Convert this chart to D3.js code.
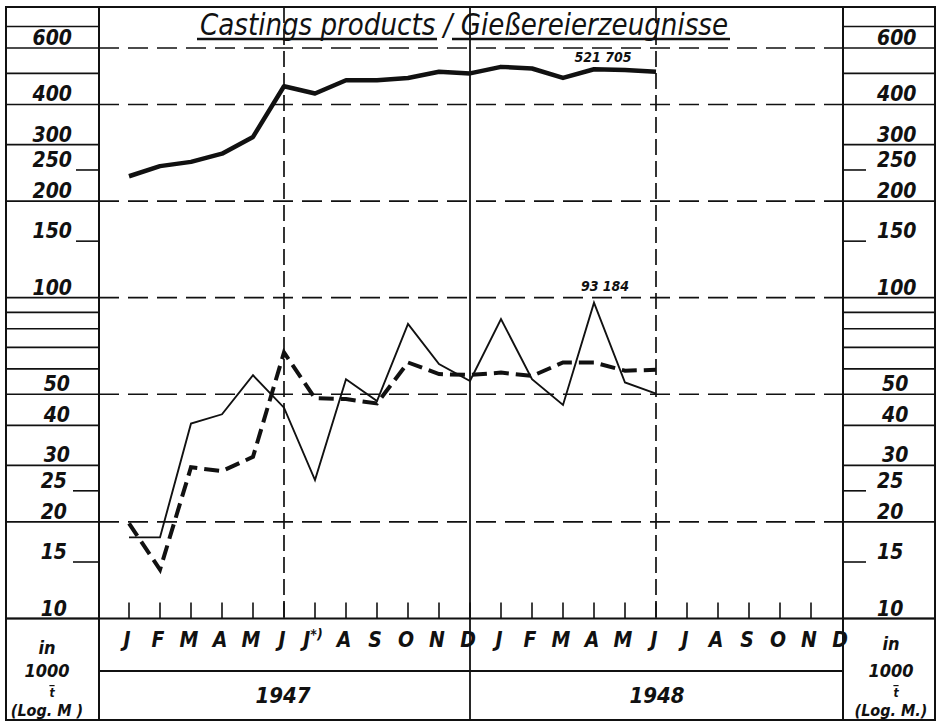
<!DOCTYPE html>
<html><head><meta charset="utf-8">
<script src="https://cdn.jsdelivr.net/npm/d3@7"></script>
<style>
html,body{margin:0;padding:0;background:#fff;}
text{font-family:"DejaVu Sans Condensed","DejaVu Sans",sans-serif;font-style:italic;font-stretch:condensed;fill:#111;}
.b{font-weight:bold;}
</style></head>
<body><svg id="c" width="941" height="721"></svg>
<script>
// ---- data ----
const monthLabels = ["J","F","M","A","M","J","J","A","S","O","N","D","J","F","M","A","M","J","J","A","S","O","N","D"];
const yearLabels = ["1947","1948"];
// thick solid: castings total (1000 t), Jan 1947 – Jun 1948
const castingsTotal = [239,257,265,281,317,456,433,476,476,484,506,500,524,518,484,515,512,506];
// thin solid
const castingsThin = [17.9,17.9,40.5,43.3,57.3,45.4,27.0,55.7,47.6,82.8,62.1,55.0,85.8,55.7,46.3,96.5,54.4,50.2];
// thick dashed
const castingsDashed = [19.8,14.2,29.6,28.8,31.9,67.5,48.6,48.3,46.8,62.8,57.8,57.4,58.4,57.0,62.8,62.8,59.2,59.6];
const yTickLabels = [600,400,300,250,200,150,100,50,40,30,25,20,15,10];
const gridValues = [600,400,200,100,50,20];
const panelLines = [700,600,500,400,300,200,100,90,80,70,60,50,40,30,20,10];
const shortTickValues = [250,150,25,15];
const annotationTexts = ["521 705","93 184"];

// ---- layout ----
const svg = d3.select("#c");
const L = 6, PL = 99, PR = 843, R = 935, T = 7, B = 720;
const x = d3.scaleLinear().domain([-1, 23]).range([98, 842]);
const y = d3.scaleLog().domain([10, 600]).range([618.5, 48]);
const axisY = y(10);

// frame
svg.append("rect").attr("x",L).attr("y",T).attr("width",R-L).attr("height",B-T)
  .attr("fill","none").attr("stroke","#111").attr("stroke-width",2);
svg.append("line").attr("x1",PL).attr("x2",PL).attr("y1",T).attr("y2",B).attr("stroke","#111").attr("stroke-width",2);
svg.append("line").attr("x1",PR).attr("x2",PR).attr("y1",T).attr("y2",B).attr("stroke","#111").attr("stroke-width",2);

// side panel lines
[[L,PL],[PR,R]].forEach(([a,b])=>{
  svg.append("g").selectAll("line").data(panelLines).join("line")
    .attr("x1",a).attr("x2",b).attr("y1",d=>y(d)).attr("y2",d=>y(d))
    .attr("stroke","#111").attr("stroke-width",1.6);
});
// short ticks
svg.append("g").selectAll("line").data(shortTickValues).join("line")
  .attr("x1",d=>d>=100?76:73).attr("x2",PL).attr("y1",d=>y(d)).attr("y2",d=>y(d))
  .attr("stroke","#111").attr("stroke-width",1.6);
svg.append("g").selectAll("line").data(shortTickValues).join("line")
  .attr("x1",PR).attr("x2",866).attr("y1",d=>y(d)).attr("y2",d=>y(d))
  .attr("stroke","#111").attr("stroke-width",1.6);

// y labels
svg.append("g").selectAll("text").data(yTickLabels).join("text").attr("class","b")
  .attr("x",d=>d>=100?72:(d>=30?70:67)).attr("y",d=>y(d)-3)
  .attr("text-anchor","end").attr("font-size",21).text(d=>d);
svg.append("g").selectAll("text").data(yTickLabels).join("text").attr("class","b")
  .attr("x",d=>d>=100?877:(d>=30?882:877)).attr("y",d=>y(d)-3)
  .attr("text-anchor","start").attr("font-size",21).text(d=>d);

// horizontal dashed grid
svg.append("g").selectAll("line").data(gridValues).join("line")
  .attr("x1",PL).attr("x2",PR).attr("y1",d=>y(d)).attr("y2",d=>y(d))
  .attr("stroke","#111").attr("stroke-width",1.7).attr("stroke-dasharray","20,9");

// vertical lines: June 1947, June 1948 dashed; Dec 1947 solid
[5,17].forEach(i=>{
  svg.append("line").attr("x1",x(i)).attr("x2",x(i)).attr("y1",T).attr("y2",axisY)
    .attr("stroke","#111").attr("stroke-width",1.7).attr("stroke-dasharray","16,6");
});
svg.append("line").attr("x1",x(11)).attr("x2",x(11)).attr("y1",T).attr("y2",B)
  .attr("stroke","#111").attr("stroke-width",1.8);

// x axis line and ticks
svg.append("line").attr("x1",L).attr("x2",R).attr("y1",axisY).attr("y2",axisY).attr("stroke","#111").attr("stroke-width",2);
svg.append("line").attr("x1",PL).attr("x2",PR).attr("y1",671).attr("y2",671).attr("stroke","#111").attr("stroke-width",1.8);
svg.append("g").selectAll("line").data(d3.range(0,23)).join("line")
  .attr("x1",d=>x(d)).attr("x2",d=>x(d)).attr("y1",axisY-16).attr("y2",axisY)
  .attr("stroke","#111").attr("stroke-width",1.6);

// month labels
const ml = svg.append("g").selectAll("text").data(monthLabels).join("text").attr("class","b")
  .attr("x",(d,i)=>x(i)-2).attr("y",647).attr("text-anchor","middle").attr("font-size",21);
ml.each(function(d,i){
  const t = d3.select(this);
  t.append("tspan").text(d);
  if(i===6){ t.append("tspan").attr("dy",-8).attr("font-size",14).text("*)"); }
});
// year labels
svg.append("g").selectAll("text").data(yearLabels).join("text").attr("class","b")
  .attr("x",(d,i)=>i===0?283:657).attr("y",703).attr("text-anchor","middle").attr("font-size",22).text(d=>d);

// title
svg.append("text").attr("x",200).attr("y",35).attr("font-size",31)
  .attr("textLength",528).attr("lengthAdjust","spacingAndGlyphs")
  .text("Castings products / Gießereierzeugnisse");
svg.append("line").attr("x1",197).attr("x2",437).attr("y1",39).attr("y2",39).attr("stroke","#111").attr("stroke-width",2.4);
svg.append("line").attr("x1",452).attr("x2",730).attr("y1",39).attr("y2",39).attr("stroke","#111").attr("stroke-width",2.4);

// series
const line = d3.line().x((d,i)=>x(i)).y(d=>y(d));
svg.append("path").datum(castingsTotal).attr("d",line).attr("fill","none")
  .attr("stroke","#111").attr("stroke-width",4.5).attr("stroke-linejoin","round");
svg.append("path").datum(castingsThin).attr("d",line).attr("fill","none")
  .attr("stroke","#111").attr("stroke-width",1.9).attr("stroke-linejoin","miter");
svg.append("path").datum(castingsDashed).attr("d",line).attr("fill","none")
  .attr("stroke","#111").attr("stroke-width",4).attr("stroke-dasharray","15,7");

// annotations
svg.append("text").attr("class","b").attr("x",603).attr("y",62).attr("text-anchor","middle").attr("font-size",14).text(annotationTexts[0]);
svg.append("text").attr("class","b").attr("x",605).attr("y",291).attr("text-anchor","middle").attr("font-size",14).text(annotationTexts[1]);

// unit labels
function unit(cx, ys, last, tdx){
  svg.append("text").attr("class","b").attr("x",cx).attr("y",ys[0]).attr("text-anchor","middle").attr("font-size",18).text("in");
  svg.append("text").attr("class","b").attr("x",cx).attr("y",ys[1]).attr("text-anchor","middle").attr("font-size",18).text("1000");
  svg.append("text").attr("class","b").attr("x",cx+tdx).attr("y",ys[2]).attr("text-anchor","middle").attr("font-size",12)
    .attr("text-decoration","overline").text("t");
  svg.append("text").attr("class","b").attr("x",cx).attr("y",ys[3]).attr("text-anchor","middle").attr("font-size",16).text(last);
}
unit(47,[654,677,697,716],"(Log.  M )",5);
unit(891,[650,677,697,716],"(Log.  M.)",5);
</script></body></html>
